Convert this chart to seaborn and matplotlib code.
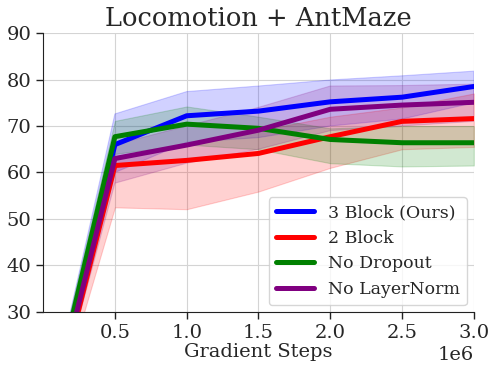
import matplotlib
matplotlib.use("Agg")
import matplotlib.pyplot as plt
import seaborn as sns
import numpy as np
import pandas as pd

steps = [0.0, 0.5e6, 1.0e6, 1.5e6, 2.0e6, 2.5e6, 3.0e6]

labels = ["3 Block (Ours)", "2 Block", "No Dropout", "No LayerNorm"]
colors = ["blue", "red", "green", "purple"]

block3_mean = [2.0, 66.0, 72.2, 73.2, 75.2, 76.2, 78.5]
block3_low = [0.0, 60.0, 66.5, 67.5, 70.0, 71.5, 75.0]
block3_high = [4.0, 72.6, 77.4, 78.6, 79.9, 80.8, 81.8]

block2_mean = [0.0, 61.5, 62.6, 64.1, 67.7, 71.0, 71.6]
block2_low = [0.0, 52.5, 52.1, 55.9, 61.0, 65.0, 65.5]
block2_high = [2.0, 63.5, 66.0, 69.0, 72.0, 74.0, 77.0]

nodrop_mean = [2.5, 67.7, 70.4, 69.5, 67.1, 66.4, 66.4]
nodrop_low = [0.0, 64.0, 66.0, 65.0, 62.0, 61.3, 61.5]
nodrop_high = [5.0, 71.1, 74.2, 72.0, 69.5, 70.0, 70.0]

nolnorm_mean = [1.0, 63.0, 65.9, 69.1, 73.6, 74.5, 75.1]
nolnorm_low = [0.0, 57.7, 62.0, 65.0, 69.0, 70.0, 71.0]
nolnorm_high = [3.0, 66.0, 70.0, 74.0, 78.6, 78.7, 79.0]

means = [block3_mean, block2_mean, nodrop_mean, nolnorm_mean]
lows = [block3_low, block2_low, nodrop_low, nolnorm_low]
highs = [block3_high, block2_high, nodrop_high, nolnorm_high]

sns.set_style("whitegrid", {"axes.edgecolor": "#222222", "xtick.bottom": True,
                            "ytick.left": True, "grid.color": "#d4d4d4"})
plt.rcParams["font.family"] = ["DejaVu Serif"]

fig, ax = plt.subplots(figsize=(4.9, 3.67), dpi=100)
fig.subplots_adjust(left=0.088, right=0.967, top=0.910, bottom=0.150)

rows = []
for lab, m in zip(labels, means):
    for s, v in zip(steps, m):
        rows.append({"step": s, "score": v, "method": lab})
df = pd.DataFrame(rows)

sns.lineplot(data=df, x="step", y="score", hue="method", hue_order=labels,
             palette=colors, linewidth=3.6, ax=ax)

for c, lo, hi in zip(colors, lows, highs):
    ax.fill_between(steps, lo, hi, color=c, alpha=0.18, linewidth=0.8)

ax.set_xlim(0, 3.0e6)
ax.set_ylim(30, 90)
ax.set_xticks([0.5e6, 1.0e6, 1.5e6, 2.0e6, 2.5e6, 3.0e6])
ax.set_yticks([30, 40, 50, 60, 70, 80, 90])
ax.tick_params(labelsize=14, length=5, color="#222222", width=1)
ax.xaxis.get_offset_text().set_fontsize(14)
ax.set_xlabel("Gradient Steps", fontsize=14, labelpad=1)
ax.set_ylabel("")
ax.set_title("Locomotion + AntMaze", fontsize=18.5, pad=5)
sns.despine(ax=ax)

leg = ax.legend(loc="lower right", fontsize=12.5, handlelength=2.2,
                frameon=True, borderaxespad=0.4)
for h in leg.get_lines():
    h.set_linewidth(3.6)

fig.savefig("out.png", dpi=100)
